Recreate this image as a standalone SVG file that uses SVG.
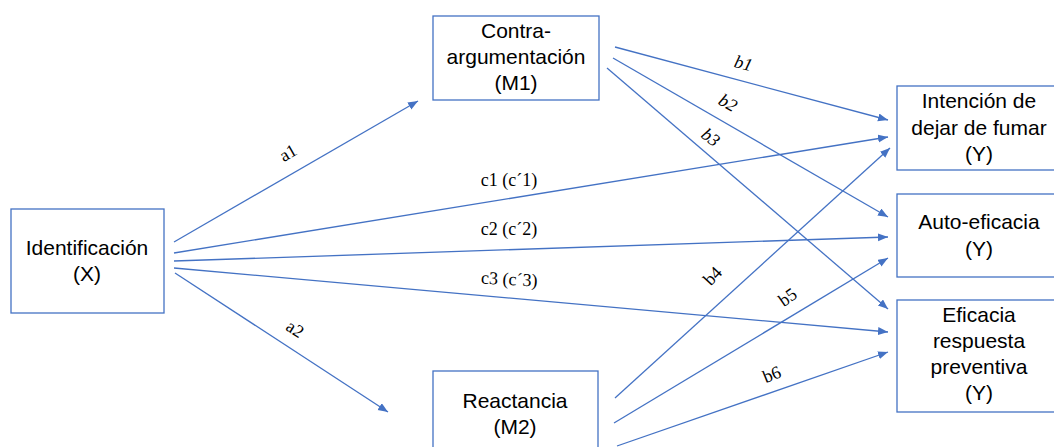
<svg xmlns="http://www.w3.org/2000/svg" width="1054" height="447" viewBox="0 0 1054 447">
<style>
.box{fill:#fff;stroke:#4472C4;stroke-width:1.3}
.nt{font-family:"Liberation Sans",Arial,sans-serif;font-size:21px;fill:#000;text-anchor:middle}
.ln{fill:none;stroke:#4472C4;stroke-width:1.3;marker-end:url(#ah)}
.lb{font-family:"Liberation Serif","Times New Roman",serif;font-size:18px;fill:#000;text-anchor:middle}
.it{font-style:italic}
</style>
<defs>
<marker id="ah" markerUnits="userSpaceOnUse" markerWidth="11" markerHeight="9" refX="10" refY="4" orient="auto">
<path d="M0,0 L10,4 L0,8 z" fill="#4472C4"/>
</marker>
</defs>
<rect width="1054" height="447" fill="#fff"/>
<g id="connectors">
<line class="ln" x1="174" y1="242" x2="418" y2="101"/>
<line class="ln" x1="175" y1="273" x2="388" y2="412"/>
<line class="ln" x1="174" y1="253" x2="888" y2="137"/>
<line class="ln" x1="174" y1="261" x2="888" y2="237"/>
<line class="ln" x1="174" y1="268" x2="888" y2="332"/>
<line class="ln" x1="615" y1="47" x2="888" y2="120"/>
<line class="ln" x1="613" y1="58" x2="888" y2="217"/>
<line class="ln" x1="607" y1="68" x2="888" y2="309"/>
<line class="ln" x1="615" y1="398" x2="890" y2="148"/>
<line class="ln" x1="614" y1="423" x2="888" y2="258"/>
<line class="ln" x1="617" y1="446" x2="888" y2="352"/>
<text class="lb" transform="translate(291,158) rotate(-30)">a1</text>
<text class="lb" transform="translate(292,334) rotate(33)">a2</text>
<text class="lb" x="509" y="186">c1 (c´1)</text>
<text class="lb" x="509" y="235">c2 (c´2)</text>
<text class="lb" transform="translate(509,285) rotate(3)">c3 (c´3)</text>
<text class="lb it" transform="translate(742,69) rotate(15)">b1</text>
<text class="lb it" transform="translate(725,108) rotate(30)">b2</text>
<text class="lb it" transform="translate(707,142) rotate(38)">b3</text>
<text class="lb" transform="translate(717,280) rotate(-47)">b4</text>
<text class="lb" transform="translate(791,302) rotate(-35)">b5</text>
<text class="lb" transform="translate(774,380) rotate(-22)">b6</text>
</g>
<g id="X">
<rect class="box" x="11" y="209" width="153" height="104"/>
<text class="nt" x="87" y="255">Identificación</text>
<text class="nt" x="87" y="281">(X)</text>
</g>
<g id="M1">
<rect class="box" x="433" y="16" width="166" height="84"/>
<text class="nt" x="516" y="38">Contra-</text>
<text class="nt" x="516" y="64">argumentación</text>
<text class="nt" x="516" y="90">(M1)</text>
</g>
<g id="M2">
<rect class="box" x="433" y="371" width="165" height="90"/>
<text class="nt" x="515" y="408">Reactancia</text>
<text class="nt" x="515" y="434">(M2)</text>
</g>
<g id="Y1">
<rect class="box" x="897" y="86" width="170" height="84"/>
<text class="nt" x="979" y="108">Intención de</text>
<text class="nt" x="979" y="135">dejar de fumar</text>
<text class="nt" x="979" y="161">(Y)</text>
</g>
<g id="Y2">
<rect class="box" x="897" y="194" width="170" height="83"/>
<text class="nt" x="979" y="229">Auto-eficacia</text>
<text class="nt" x="979" y="256">(Y)</text>
</g>
<g id="Y3">
<rect class="box" x="897" y="300" width="170" height="112"/>
<text class="nt" x="979" y="322">Eficacia</text>
<text class="nt" x="979" y="348">respuesta</text>
<text class="nt" x="979" y="374">preventiva</text>
<text class="nt" x="979" y="400">(Y)</text>
</g>
</svg>
